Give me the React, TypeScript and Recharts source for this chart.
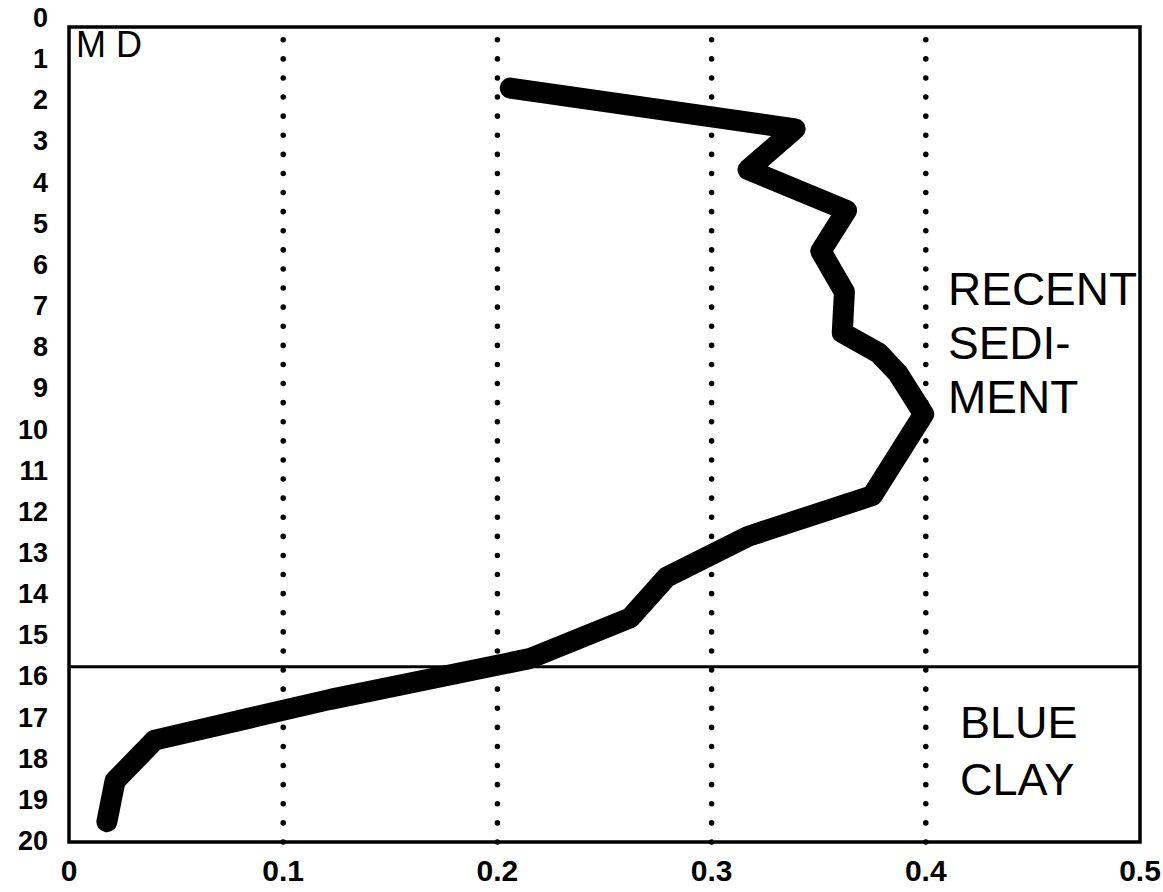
import React from 'react';
import { LineChart, Line, XAxis, YAxis, ReferenceLine, ReferenceArea } from 'recharts';

// depth of each slice (top of core = 0) and the measured value at that depth
const DEPTHS = [1.5, 2.5, 3.5, 4.5, 5.5, 6.5, 7.5, 8.0, 8.5, 9.5, 10.5, 11.5, 12.5, 13.5, 14.5, 15.5, 16.5, 17.5, 18.5, 19.5];
const VALUES = [0.206, 0.339, 0.317, 0.363, 0.351, 0.362, 0.361, 0.378, 0.387, 0.399, 0.387, 0.375, 0.317, 0.279, 0.262, 0.215, 0.122, 0.04, 0.0215, 0.0177];

const X_TICKS = [0, 0.1, 0.2, 0.3, 0.4, 0.5];
const Y_TICKS = [0, 1, 2, 3, 4, 5, 6, 7, 8, 9, 10, 11, 12, 13, 14, 15, 16, 17, 18, 19, 20];
const GRID_X = [0.1, 0.2, 0.3, 0.4];
const BOUNDARY_DEPTH = 15.7;

const UPPER_LABEL = ['RECENT', 'SEDI-', 'MENT'];
const LOWER_LABEL = ['BLUE', 'CLAY'];
const CORNER_LABEL = 'M D';

const FONT = '"Liberation Sans", Arial, sans-serif';

const data = DEPTHS.map((depth, i) => ({ depth, value: VALUES[i] }));

const YTick = (props: any) => {
  const { x, y, payload } = props;
  // labels in the scan sit a little above their ticks, more so near the top
  const shift = -10 + 0.4 * payload.value;
  return (
    <text x={x} y={y + shift + 10} textAnchor="end" fontSize={27} fontWeight="bold" fontFamily={FONT} fill="#000">
      {payload.value}
    </text>
  );
};

const XTick = (props: any) => {
  const { x, y, payload } = props;
  return (
    <text x={x} y={y + 39} textAnchor="middle" fontSize={30} fontWeight="bold" fontFamily={FONT} fill="#000">
      {String(payload.value)}
    </text>
  );
};

export default function App() {
  return (
    <div style={{ position: 'absolute', left: 0, top: 0, width: 1163, height: 892, background: '#fff' }}>
      <LineChart
        width={1163}
        height={892}
        data={data}
        layout="vertical"
        margin={{ top: 27, right: 23, left: 0, bottom: 0 }}
      >
        <XAxis
          type="number"
          dataKey="value"
          domain={[0, 0.5]}
          ticks={X_TICKS}
          interval={0}
          height={50}
          axisLine={false}
          tickLine={false}
          tickSize={0}
          tickMargin={0}
          tick={<XTick />}
        />
        <YAxis
          type="number"
          dataKey="depth"
          domain={[0, 20]}
          ticks={Y_TICKS}
          interval={0}
          width={69}
          axisLine={false}
          tickLine={false}
          tickSize={0}
          tickMargin={21}
          tick={<YTick />}
        />
        {GRID_X.map((g) => (
          <ReferenceLine
            key={g}
            x={g}
            stroke="#000"
            strokeWidth={5.5}
            strokeDasharray="0.1 19"
            strokeLinecap="round"
          />
        ))}
        <ReferenceLine y={BOUNDARY_DEPTH} stroke="#000" strokeWidth={3} />
        <ReferenceArea x1={0} x2={0.5} y1={0} y2={20} fill="none" stroke="#000" strokeWidth={3.5} fillOpacity={0} />
        <Line
          type="linear"
          dataKey="value"
          stroke="#000"
          strokeWidth={21}
          strokeLinecap="round"
          strokeLinejoin="round"
          dot={false}
          activeDot={false}
          isAnimationActive={false}
        />
      </LineChart>
      <svg
        width={1163}
        height={892}
        style={{ position: 'absolute', left: 0, top: 0, pointerEvents: 'none' }}
        fontFamily={FONT}
      >
        <text x={76} y={57} fontSize={36} fill="#000">{CORNER_LABEL}</text>
        {UPPER_LABEL.map((t, i) => (
          <text key={t} x={948} y={305 + i * 54} fontSize={46} fill="#000">{t}</text>
        ))}
        {LOWER_LABEL.map((t, i) => (
          <text key={t} x={960} y={738 + i * 57} fontSize={45} fill="#000">{t}</text>
        ))}
      </svg>
    </div>
  );
}
